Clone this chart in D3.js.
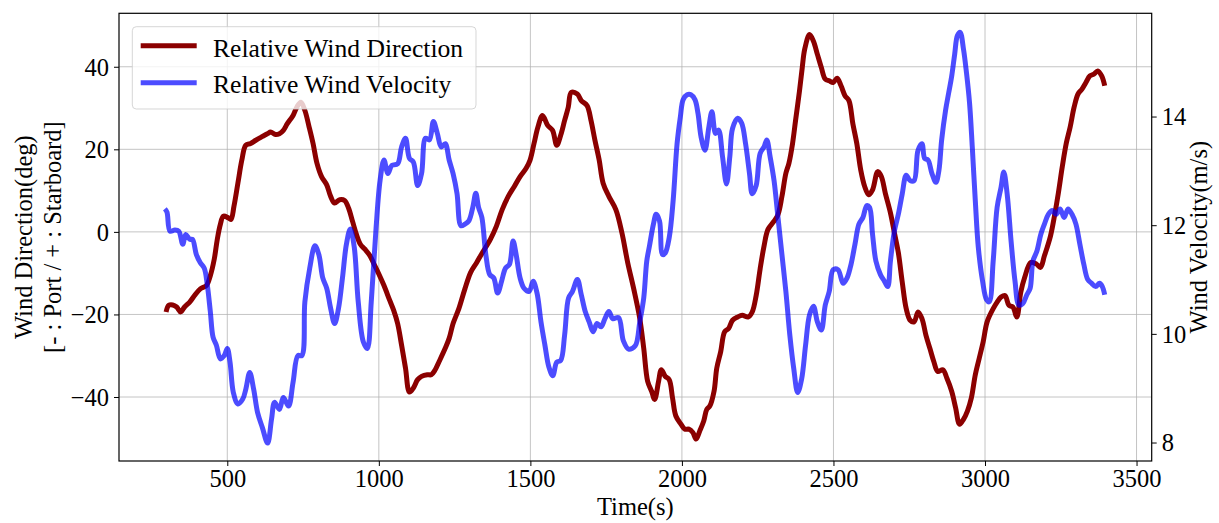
<!DOCTYPE html>
<html>
<head>
<meta charset="utf-8">
<script src="https://cdn.jsdelivr.net/npm/d3@7"></script>
<style>
  html, body { margin: 0; padding: 0; background: #fff; }
  svg { display: block; }
  text { font-family: "Liberation Serif", "Times New Roman", Times, serif; fill: #000; }
</style>
</head>
<body>
<svg id="chart" width="1219" height="523"></svg>
<script>
// ---------- data ----------
const dirTime = [298,307,320,333,346,359,376,392,411,431,444,457,467,477,487,503,512,522,535,548,561,577,594,613,633,643,659,672,685,698,717,730,743,756,770,783,796,811,828,841,854,871,887,900,913,926,939,954,971,984,1000,1017,1036,1049,1062,1075,1088,1101,1114,1128,1141,1160,1173,1186,1199,1219,1232,1245,1264,1284,1303,1323,1342,1368,1388,1407,1427,1447,1466,1486,1499,1512,1525,1540,1557,1573,1587,1600,1613,1625,1635,1655,1668,1687,1700,1713,1727,1740,1759,1782,1802,1821,1841,1861,1874,1887,1900,1910,1923,1932,1945,1958,1969,1980,1997,2010,2023,2036,2047,2059,2072,2082,2092,2106,2115,2128,2141,2154,2167,2184,2199,2219,2232,2245,2258,2271,2284,2304,2317,2330,2343,2353,2365,2375,2388,2397,2405,2421,2434,2447,2460,2473,2486,2499,2512,2525,2538,2551,2564,2577,2590,2603,2616,2629,2646,2658,2671,2688,2701,2714,2727,2740,2753,2766,2779,2792,2805,2818,2831,2844,2861,2874,2890,2903,2916,2929,2942,2955,2968,2981,2994,3007,3027,3040,3053,3066,3079,3092,3105,3118,3131,3151,3170,3183,3196,3216,3229,3242,3255,3268,3281,3294,3307,3320,3333,3346,3359,3372,3385,3395];
const dirValue = [-19.4,-17.8,-17.7,-18.2,-19.4,-18.2,-17.0,-15.4,-13.8,-13.0,-10.6,-6.6,-1.8,1.8,3.8,3.4,3.0,6.2,11.8,17.4,21.0,21.4,22.2,23.0,23.8,24.2,23.6,23.8,24.6,26.2,28.2,30.3,31.4,29.4,25.4,21.4,16.6,13.4,11.4,8.6,7.0,7.8,7.6,5.8,2.6,-0.6,-3.0,-4.2,-5.8,-7.8,-10.2,-13.0,-16.6,-19.0,-22.2,-27.4,-33.0,-38.8,-37.8,-35.8,-35.0,-34.6,-34.6,-33.4,-31.4,-28.2,-25.8,-22.2,-18.6,-13.8,-9.8,-7.4,-5.0,-1.8,1.4,5.4,8.6,11.0,13.4,15.4,17.4,21.4,25.4,28.2,25.8,24.6,21.0,23.4,27.0,30.2,33.8,33.4,31.8,30.6,27.0,22.2,17.4,11.8,8.6,5.4,-0.2,-7.4,-13.8,-21.0,-28.2,-36.2,-38.6,-40.6,-36.2,-33.4,-35.0,-35.8,-40.2,-44.6,-46.6,-47.8,-47.8,-48.6,-50.2,-48.2,-45.8,-43.0,-42.2,-38.6,-33.0,-29.0,-24.2,-23.4,-21.4,-20.6,-20.2,-20.6,-19.4,-15.4,-9.0,-3.4,0.6,2.6,4.2,8.6,14.2,16.6,21.4,27.0,34.2,39.8,44.2,47.8,46.2,43.0,39.8,37.0,36.6,36.2,37.2,35.4,33.0,31.8,26.2,21.4,15.0,11.0,9.0,10.2,14.6,13.4,9.4,4.6,-0.2,-5.0,-12.2,-18.6,-21.4,-21.8,-19.4,-21.0,-25.0,-28.2,-31.4,-33.8,-33.4,-35.4,-38.6,-42.6,-46.6,-45.4,-43.4,-40.2,-34.6,-30.6,-26.6,-21.8,-18.6,-17.0,-15.8,-15.4,-17.8,-18.2,-20.6,-14.6,-11.0,-7.4,-7.8,-8.6,-5.8,-1.0,3.8,9.4,15.8,21.4,25.4,30.2,33.4,34.6,36.2,37.8,38.2,39.0,37.8,35.4];

const velTime = [294,301,311,327,340,353,363,376,385,398,411,424,434,444,453,464,477,490,500,509,520,535,551,561,574,587,600,616,633,646,656,672,685,702,717,733,746,756,772,789,802,815,828,841,854,867,880,893,906,919,932,949,962,975,991,1004,1017,1030,1043,1062,1075,1088,1101,1114,1128,1141,1154,1167,1180,1193,1206,1219,1232,1245,1258,1271,1284,1297,1310,1320,1329,1340,1353,1366,1379,1392,1405,1418,1431,1443,1453,1466,1479,1496,1509,1522,1535,1548,1561,1574,1587,1600,1613,1626,1639,1655,1668,1681,1694,1707,1720,1733,1746,1759,1772,1791,1807,1824,1846,1861,1874,1884,1893,1906,1915,1926,1936,1945,1958,1971,1984,1995,2004,2017,2030,2043,2053,2063,2076,2089,2099,2111,2121,2134,2147,2158,2167,2184,2197,2210,2223,2232,2245,2258,2271,2280,2291,2304,2317,2330,2343,2356,2369,2382,2395,2408,2421,2434,2447,2460,2473,2486,2499,2515,2532,2545,2558,2571,2584,2597,2610,2619,2629,2640,2655,2668,2679,2688,2701,2714,2727,2740,2753,2766,2779,2792,2801,2812,2825,2838,2848,2857,2870,2880,2890,2900,2909,2918,2929,2939,2949,2958,2968,2978,2992,3005,3014,3027,3040,3053,3062,3073,3086,3099,3112,3125,3138,3149,3158,3171,3184,3196,3209,3222,3235,3248,3261,3274,3287,3300,3313,3326,3339,3352,3365,3378,3387,3395];
const velValue = [12.30,12.24,11.89,11.91,11.89,11.65,11.83,11.74,11.74,11.46,11.31,11.21,10.90,10.41,9.94,9.79,9.54,9.60,9.73,9.48,8.92,8.71,8.80,8.98,9.29,8.98,8.55,8.27,7.99,8.43,8.74,8.61,8.83,8.67,9.11,9.60,9.60,10.59,11.21,11.62,11.46,11.03,10.84,10.47,10.19,10.47,11.03,11.65,11.93,11.59,10.59,9.85,9.73,10.59,11.96,12.82,13.20,12.95,13.10,13.13,13.44,13.60,13.23,13.16,12.73,12.95,13.60,13.57,13.91,13.69,13.44,13.50,13.20,12.95,12.58,11.99,12.02,12.08,12.33,12.59,12.33,12.14,11.46,11.09,11.03,10.75,10.97,11.21,11.28,11.71,11.46,11.03,10.84,10.78,10.97,10.75,10.22,9.79,9.39,9.23,9.48,9.51,9.98,10.66,10.78,11.00,10.72,10.41,10.22,10.04,10.19,10.13,10.28,10.41,10.28,10.30,9.87,9.72,9.78,10.22,10.66,11.34,11.62,12.02,12.20,12.08,11.46,11.49,11.77,12.45,13.50,14.00,14.31,14.40,14.40,14.31,14.06,13.63,13.38,13.81,14.09,13.69,13.75,13.26,12.76,13.26,13.78,13.97,13.88,13.50,12.95,12.58,12.73,13.32,13.44,13.57,13.26,12.82,12.14,11.46,10.78,9.98,9.36,8.92,9.17,9.79,10.35,10.51,10.22,10.07,10.53,10.78,11.18,11.18,10.93,11.03,11.28,11.65,12.02,12.14,12.36,12.33,11.83,11.34,11.09,10.97,10.87,11.34,11.89,12.20,12.58,12.92,12.82,12.82,13.38,13.50,13.23,13.20,12.95,12.79,13.01,13.57,14.12,14.43,14.74,15.15,15.49,15.55,15.24,14.80,14.25,13.44,12.45,11.59,10.97,10.63,10.59,11.34,12.33,12.70,12.98,12.58,11.71,10.97,10.53,10.56,10.72,10.84,11.34,11.52,11.83,12.02,12.20,12.27,12.20,12.30,12.14,12.30,12.20,12.02,11.65,11.28,11.00,10.93,10.87,10.93,10.87,10.72];

const xTicks = [500, 1000, 1500, 2000, 2500, 3000, 3500];
const yLeftTicks = [-40, -20, 0, 20, 40];
const yRightTicks = [8, 10, 12, 14];
const seriesNames = ["Relative Wind Direction", "Relative Wind Velocity"];
const xLabel = "Time(s)";
const yLeftLabel = ["Wind Direction(deg)", "[- : Port / + : Starboard]"];
const yRightLabel = "Wind Velocity(m/s)";

// ---------- layout ----------
const plot = { left: 119, right: 1151.7, top: 13.3, bottom: 461 };
const RED = "#8b0000";
const BLUE = "#0000ff";
const LW = 5;

const svg = d3.select("#chart");

const x = d3.scaleLinear().domain([142.7, 3550]).range([plot.left, plot.right]);
const yL = d3.scaleLinear().domain([-55.5, 52.95]).range([plot.bottom, plot.top]);
const yR = d3.scaleLinear().domain([7.66, 15.90]).range([plot.bottom, plot.top]);

// grid
const grid = svg.append("g").attr("class", "grid");
grid.selectAll("line.v").data(xTicks).join("line")
  .attr("x1", d => x(d)).attr("x2", d => x(d))
  .attr("y1", plot.top).attr("y2", plot.bottom)
  .attr("stroke", "#b0b0b0").attr("stroke-width", 1).attr("stroke-opacity", 0.75);
grid.selectAll("line.h").data(yLeftTicks).join("line")
  .attr("x1", plot.left).attr("x2", plot.right)
  .attr("y1", d => yL(d)).attr("y2", d => yL(d))
  .attr("stroke", "#b0b0b0").attr("stroke-width", 1).attr("stroke-opacity", 0.75);

// lines
const dirData = dirTime.map((t, i) => [t, dirValue[i]]);
const velData = velTime.map((t, i) => [t, velValue[i]]);

const lineDir = d3.line().x(d => x(d[0])).y(d => yL(d[1])).curve(d3.curveCatmullRom.alpha(0.5));
const lineVel = d3.line().x(d => x(d[0])).y(d => yR(d[1])).curve(d3.curveCatmullRom.alpha(0.5));

svg.append("path").datum(dirData).attr("d", lineDir)
  .attr("fill", "none").attr("stroke", RED).attr("stroke-width", LW)
  .attr("stroke-linejoin", "round").attr("stroke-linecap", "butt");

// legend (drawn over the direction line)
const legend = svg.append("g");
legend.append("rect")
  .attr("x", 132.3).attr("y", 26.7).attr("width", 343.7).attr("height", 82.3)
  .attr("rx", 4).attr("fill", "#fff").attr("fill-opacity", 0.8)
  .attr("stroke", "#cccccc").attr("stroke-opacity", 0.8).attr("stroke-width", 1);
const legItems = [
  { name: seriesNames[0], color: RED, op: 1, ly: 45.7, ty: 56.5 },
  { name: seriesNames[1], color: BLUE, op: 0.7, ly: 82.7, ty: 93 }
];
legItems.forEach(it => {
  legend.append("line").attr("x1", 140.7).attr("x2", 196.7)
    .attr("y1", it.ly).attr("y2", it.ly)
    .attr("stroke", it.color).attr("stroke-opacity", it.op).attr("stroke-width", LW);
  legend.append("text").attr("x", 213).attr("y", it.ty)
    .attr("font-size", 25.6).text(it.name);
});

svg.append("path").datum(velData).attr("d", lineVel)
  .attr("fill", "none").attr("stroke", BLUE).attr("stroke-opacity", 0.7).attr("stroke-width", LW)
  .attr("stroke-linejoin", "round").attr("stroke-linecap", "butt");

// axes
const fs = 24.5;
const fmt = d3.format("d");
const xAxis = svg.append("g").attr("transform", `translate(0,${plot.bottom})`)
  .call(d3.axisBottom(x).tickValues(xTicks).tickFormat(fmt).tickSize(5).tickPadding(5));
const yAxisL = svg.append("g").attr("transform", `translate(${plot.left},0)`)
  .call(d3.axisLeft(yL).tickValues(yLeftTicks).tickFormat(fmt).tickSize(5).tickPadding(5));
const yAxisR = svg.append("g").attr("transform", `translate(${plot.right},0)`)
  .call(d3.axisRight(yR).tickValues(yRightTicks).tickFormat(fmt).tickSize(5).tickPadding(5));
[xAxis, yAxisL, yAxisR].forEach(g => {
  g.select(".domain").remove();
  g.selectAll(".tick line").attr("stroke", "#000").attr("stroke-width", 1);
  g.selectAll(".tick text").attr("font-size", fs)
    .attr("font-family", '"Liberation Serif", "Times New Roman", serif').attr("fill", "#000");
});
xAxis.selectAll(".tick text").attr("dy", null).attr("y", 26);
yAxisL.selectAll(".tick text").attr("dy", "0.34em");
yAxisR.selectAll(".tick text").attr("dy", "0.34em");

// frame
svg.append("rect").attr("x", plot.left).attr("y", plot.top)
  .attr("width", plot.right - plot.left).attr("height", plot.bottom - plot.top)
  .attr("fill", "none").attr("stroke", "#000").attr("stroke-width", 1.2);

// labels
const cx = (plot.left + plot.right) / 2;
const cy = (plot.top + plot.bottom) / 2;
svg.append("text").attr("x", cx).attr("y", 515).attr("text-anchor", "middle")
  .attr("font-size", 24.5).text(xLabel);
svg.append("text").attr("transform", `translate(31.5,${cy}) rotate(-90)`)
  .attr("text-anchor", "middle").attr("font-size", 24.5).text(yLeftLabel[0]);
svg.append("text").attr("transform", `translate(61,${cy}) rotate(-90)`)
  .attr("text-anchor", "middle").attr("font-size", 24.5).text(yLeftLabel[1]);
svg.append("text").attr("transform", `translate(1207,${cy}) rotate(-90)`)
  .attr("text-anchor", "middle").attr("font-size", 24.5).text(yRightLabel);
</script>
</body>
</html>
